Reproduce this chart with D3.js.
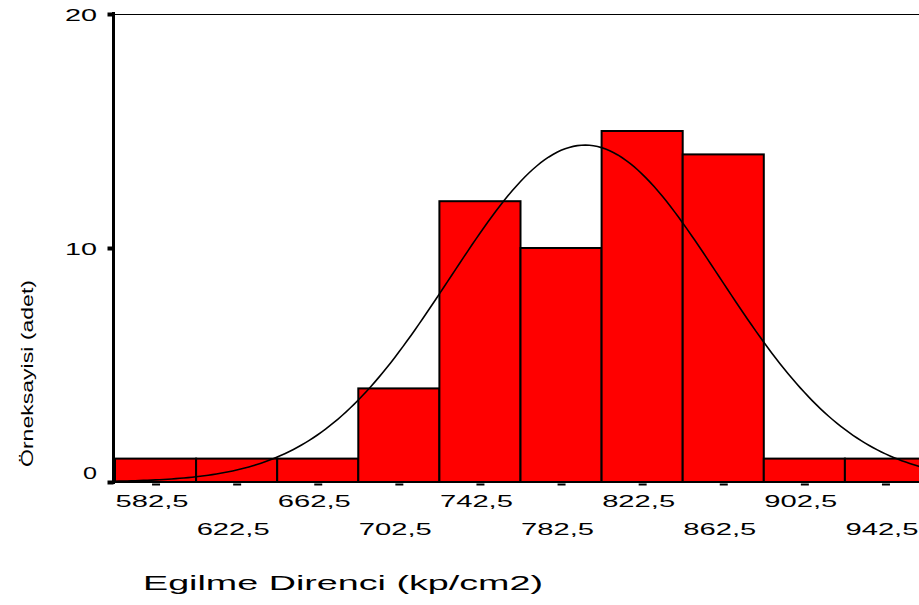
<!DOCTYPE html>
<html>
<head>
<meta charset="utf-8">
<script src="https://cdn.jsdelivr.net/npm/d3@7"></script>
<style>
  html, body { margin: 0; padding: 0; background: #fff; }
  svg { display: block; font-family: "Liberation Sans", Arial, sans-serif; }
</style>
</head>
<body>
<svg id="chart" width="919" height="605"></svg>
<script>
// ---- data ----
const binCenters = [582.5, 622.5, 662.5, 702.5, 742.5, 782.5, 822.5, 862.5, 902.5, 942.5];
const binLabels = ["582,5", "622,5", "662,5", "702,5", "742,5", "782,5", "822,5", "862,5", "902,5", "942,5"];
const counts = [1, 1, 1, 4, 12, 10, 15, 14, 1, 1];
const binWidth = 40;
const yTicks = [0, 10, 20];
const yTickLabels = ["0", "10", "20"];
const curveMean = 794.3;
const curveSD = 66.5;
const sampleN = 60;
const xTitle = "Egilme Direnci (kp/cm2)";
const yTitle = "Örneksayisi (adet)";

// ---- layout ----
const svg = d3.select("#chart");
const x = d3.scaleLinear().domain([562.5, 962.5]).range([115, 926]);
const y = d3.scaleLinear().domain([0, 20]).range([482, 14]);

// top frame line
svg.append("line")
  .attr("x1", 113).attr("x2", 926)
  .attr("y1", 14.5).attr("y2", 14.5)
  .attr("stroke", "#000").attr("stroke-width", 1.2);

// bars
svg.append("g").selectAll("rect")
  .data(binCenters.map((c, i) => ({ c, v: counts[i] })))
  .join("rect")
  .attr("x", d => x(d.c - binWidth / 2))
  .attr("width", d => x(d.c + binWidth / 2) - x(d.c - binWidth / 2))
  .attr("y", d => y(d.v))
  .attr("height", d => y(0) - y(d.v))
  .attr("fill", "#ff0000")
  .attr("stroke", "#000")
  .attr("stroke-width", 2);

// normal curve
const pts = d3.range(562.5, 962.6, 2).map(v => {
  const z = (v - curveMean) / curveSD;
  return [v, sampleN * binWidth / (curveSD * Math.sqrt(2 * Math.PI)) * Math.exp(-0.5 * z * z)];
});
svg.append("path")
  .datum(pts)
  .attr("fill", "none")
  .attr("stroke", "#000")
  .attr("stroke-width", 1.6)
  .attr("d", d3.line().x(d => x(d[0])).y(d => y(d[1])));

// baseline
svg.append("line")
  .attr("x1", 113).attr("x2", 926)
  .attr("y1", y(0)).attr("y2", y(0))
  .attr("stroke", "#000").attr("stroke-width", 2);

// y axis
const yAxis = svg.append("g")
  .attr("transform", "translate(113.5,0)")
  .call(d3.axisLeft(y).tickValues(yTicks).tickSize(6).tickFormat((d, i) => yTickLabels[i]));
yAxis.select(".domain")
  .attr("d", `M0,${y(20) - 2}V${y(0) + 2}`)
  .attr("stroke", "#000").attr("stroke-width", 3);
yAxis.selectAll(".tick line").attr("stroke", "#000").attr("stroke-width", 4);
yAxis.selectAll(".tick text")
  .attr("x", -16.5)
  .attr("dy", null)
  .attr("y", d => d === 0 ? -4 : 6)
  .attr("font-size", 16.5)
  .attr("font-family", "'Liberation Sans', Arial, sans-serif")
  .attr("fill", "#000")
  .attr("textLength", d => d === 0 ? 14 : 32)
  .attr("lengthAdjust", "spacingAndGlyphs");

// x axis
const xAxis = svg.append("g")
  .attr("transform", `translate(0,${y(0)})`)
  .call(d3.axisBottom(x).tickValues(binCenters).tickSize(3).tickFormat((d, i) => binLabels[i]));
xAxis.select(".domain").remove();
xAxis.selectAll(".tick line")
  .attr("y1", 1.5).attr("y2", 3.5)
  .attr("stroke", "#000").attr("stroke-width", 8);
xAxis.selectAll(".tick text")
  .attr("dy", null)
  .attr("x", -4)
  .attr("y", (d, i) => i % 2 === 0 ? 25 : 53)
  .attr("font-size", 16.5)
  .attr("font-family", "'Liberation Sans', Arial, sans-serif")
  .attr("fill", "#000")
  .attr("textLength", 73)
  .attr("lengthAdjust", "spacingAndGlyphs");

// axis titles
svg.append("text")
  .attr("x", 343).attr("y", 590)
  .attr("text-anchor", "middle")
  .attr("font-size", 19.5)
  .attr("textLength", 400)
  .attr("lengthAdjust", "spacingAndGlyphs")
  .attr("fill", "#000")
  .text(xTitle);

svg.append("text")
  .attr("transform", "translate(33,373.5) rotate(-90)")
  .attr("text-anchor", "middle")
  .attr("font-size", 16)
  .attr("textLength", 187)
  .attr("lengthAdjust", "spacingAndGlyphs")
  .attr("fill", "#000")
  .text(yTitle);
</script>
</body>
</html>
